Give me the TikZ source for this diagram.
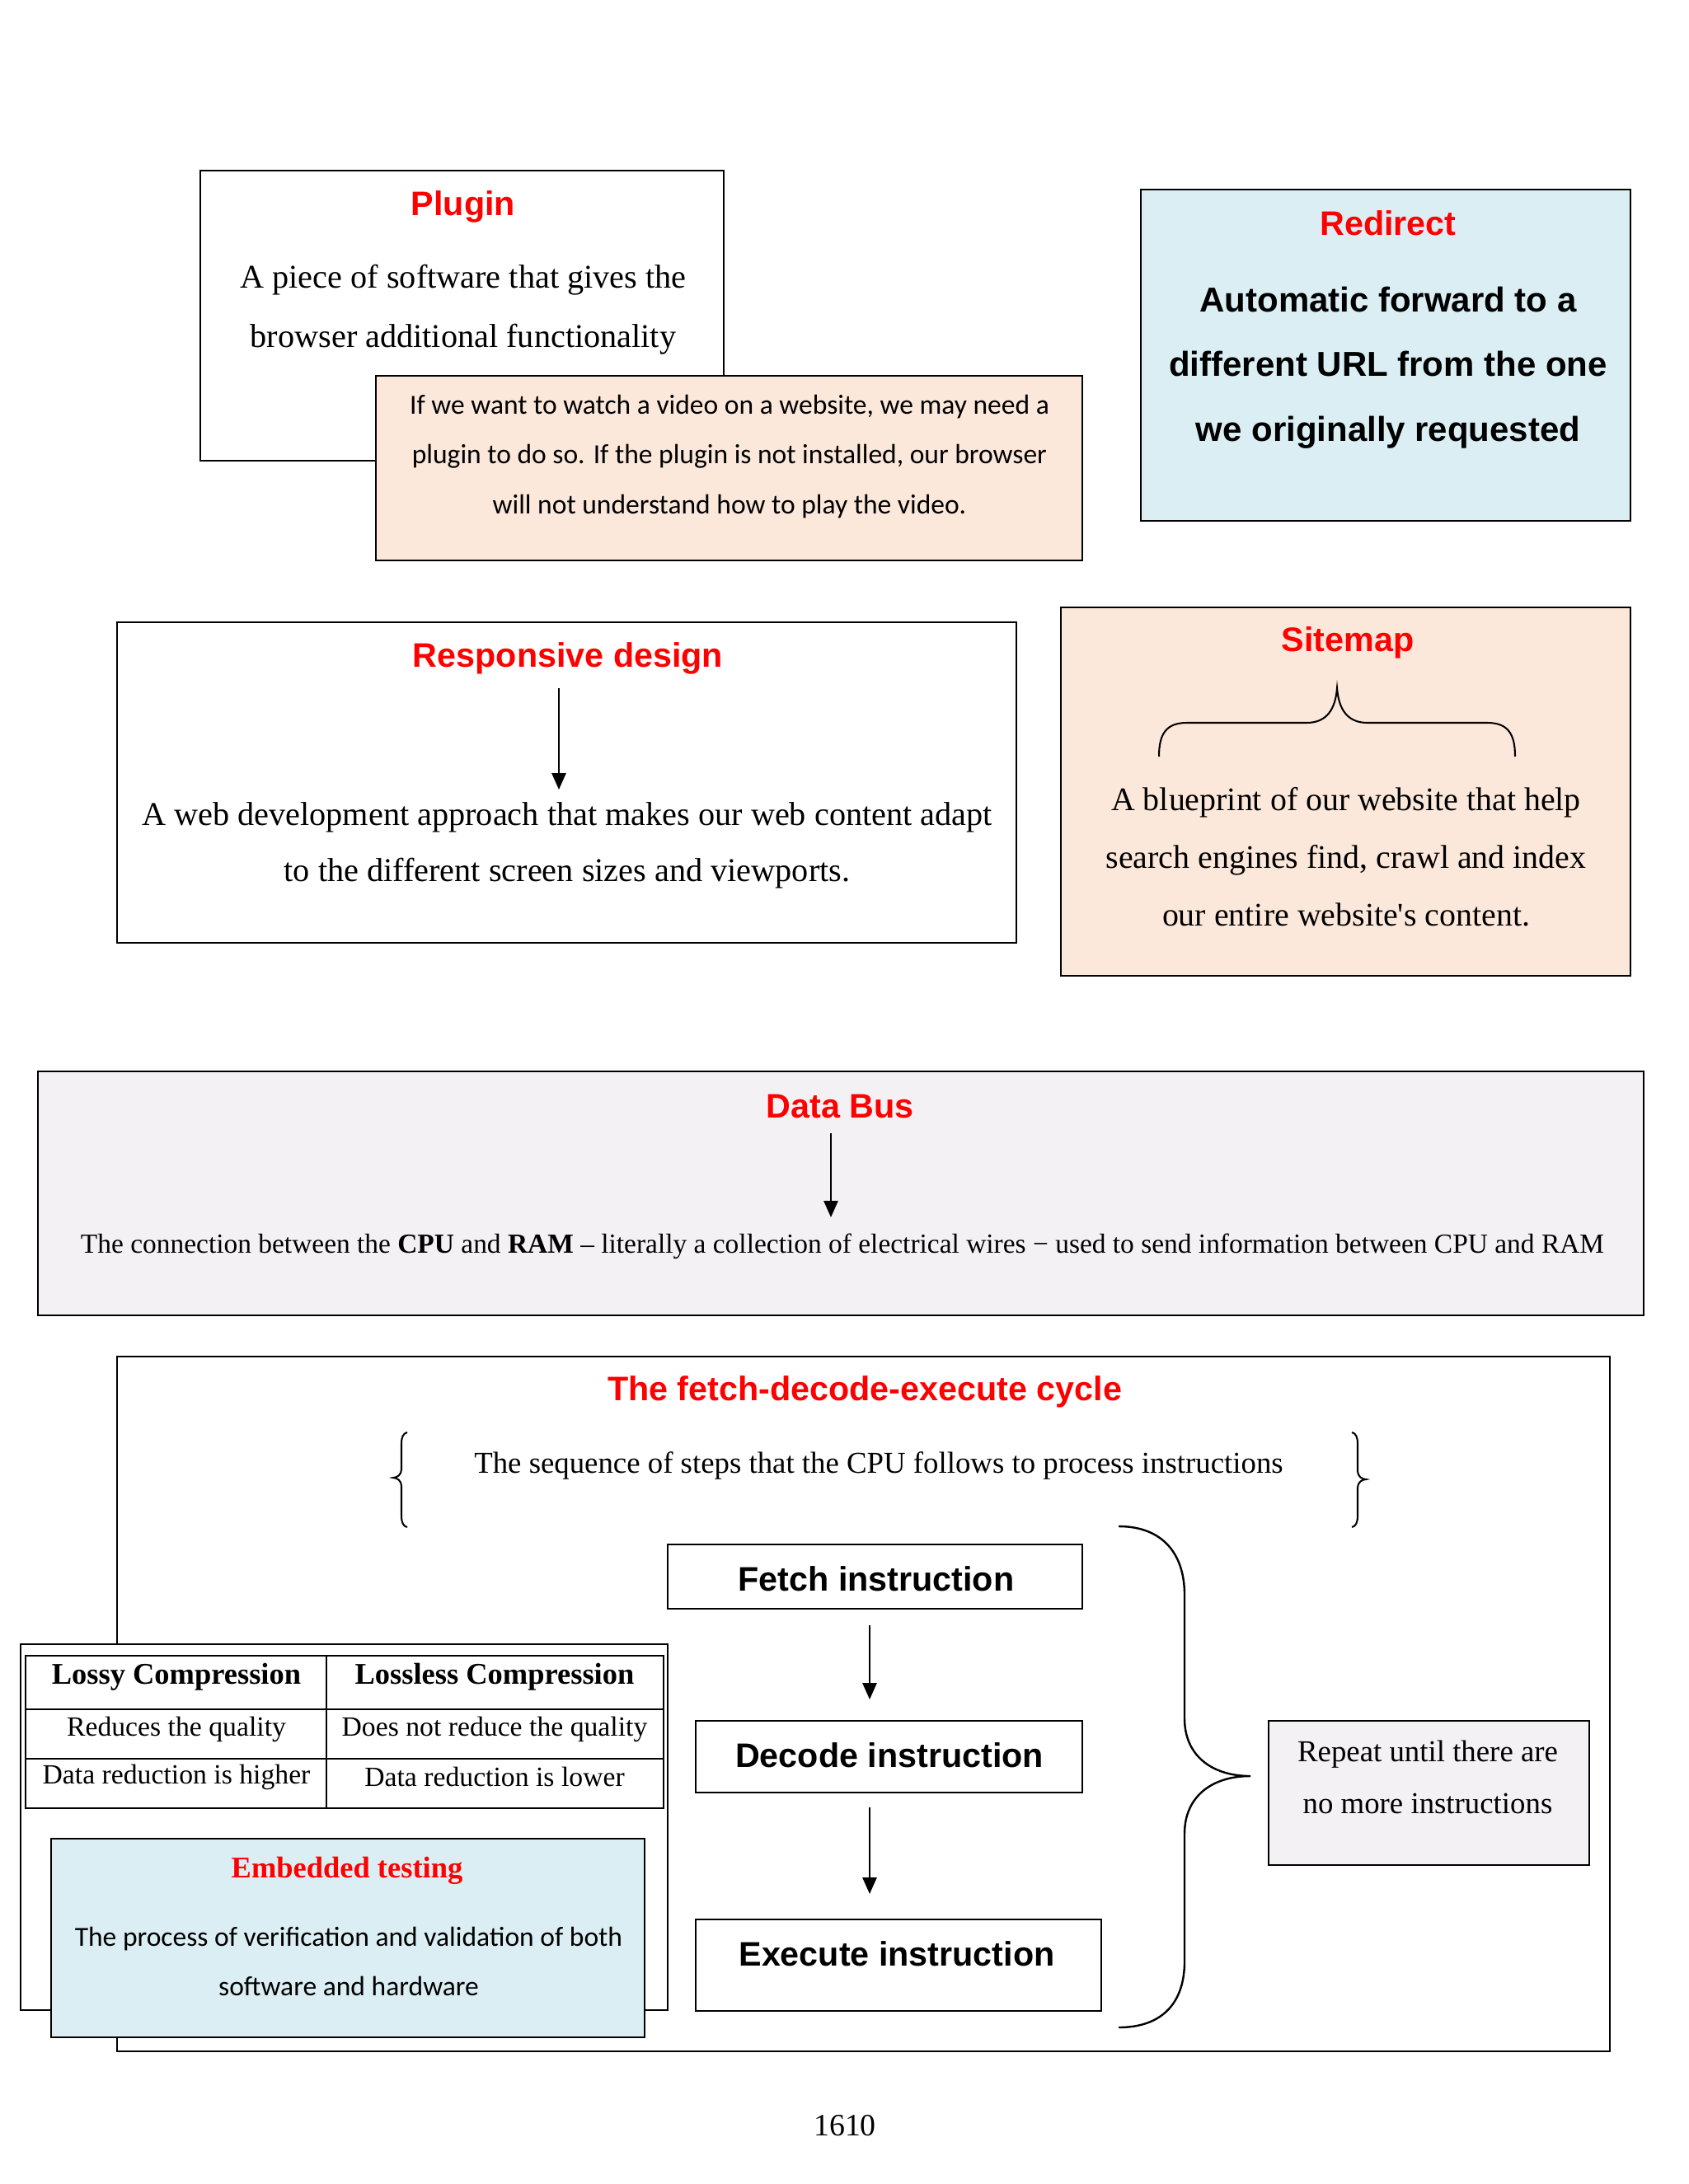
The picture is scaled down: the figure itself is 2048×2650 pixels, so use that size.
\documentclass[tikz,border=0pt]{standalone}
\usepackage{fontspec}
\setmainfont{Liberation Serif}
\newfontfamily\arialf{Liberation Sans}
\newfontfamily\calf{Carlito}
\usetikzlibrary{arrows.meta}
\definecolor{redT}{HTML}{FF0000}
\definecolor{peach}{HTML}{FCE8DA}
\definecolor{lblue}{HTML}{DAEEF3}
\definecolor{lgray}{HTML}{F3F1F4}
\newcommand{\fsz}[2]{\fontsize{#1pt}{#2pt}\selectfont}
\tikzset{
  box/.style={draw=black, line width=0.8pt},
  thinbox/.style={draw=black, line width=0.6pt},
  ttl/.style={inner sep=0pt, text=redT, font=\arialf\bfseries\fsz{12}{14}},
  tms/.style={inner sep=0pt, align=center},
  arr/.style={line width=0.6pt, -{Triangle[length=5.8pt,width=5pt]}},
  brc/.style={line width=0.6pt},
}
\begin{document}
\begin{tikzpicture}[x=0.2907pt,y=-0.2907pt]
\useasboundingbox (0,0) rectangle (2048,2650);
\fill[white] (0,0) rectangle (2048,2650);

% Plugin
\draw[box, fill=white] (243,207) rectangle (878,559);
\node[ttl] (tplugin) at (562,251) {Plugin};
\node[tms, font=\fsz{11.7}{20.9}] (bplugin) at (562,376) {A piece of software that gives the\\browser additional functionality};
\draw[box, fill=peach] (456,456) rectangle (1313,680);
\node[tms, font=\calf\fsz{9.75}{17.7}] (borange) at (885,554) {If we want to watch a video on a website, we may need a\\plugin to do so. If the plugin is not installed, our browser\\will not understand how to play the video.};

% Redirect
\draw[box, fill=lblue] (1384,230) rectangle (1978,632);
\node[ttl] (tredirect) at (1684,271) {Redirect};
\node[tms, font=\arialf\bfseries\fsz{12.2}{22.8}] (bredirect) at (1684,446) {Automatic forward to a\\different URL from the one\\we originally requested};

% Responsive design
\draw[box, fill=white] (142,755) rectangle (1233,1144);
\node[ttl] (tresp) at (689,799) {Responsive design};
\node[tms, font=\fsz{11.7}{19.8}] (bresp) at (688,1026) {A web development approach that makes our web content adapt\\to the different screen sizes and viewports.};
\coordinate (ra1) at (678,835);
\coordinate (ra2) at (678,958);
\draw[arr] (ra1) -- (ra2);

% Sitemap
\draw[box, fill=peach] (1287,737) rectangle (1978,1184);
\node[ttl] (tsite) at (1635,780) {Sitemap};
\draw[brc] (1406,918) .. controls (1406,890) and (1415,877) .. (1440,877) -- (1585,877) .. controls (1610,877) and (1620,860) .. (1622,835) .. controls (1624,860) and (1634,877) .. (1659,877) -- (1804,877) .. controls (1829,877) and (1838,890) .. (1838,918);
\node[tms, font=\fsz{11.6}{20.3}] (bsite) at (1633,1040) {A blueprint of our website that help\\search engines find, crawl and index\\our entire website\textquotesingle s content.};

% Data Bus
\draw[box, fill=lgray] (46,1300) rectangle (1994,1596);
\node[ttl] (tbus) at (1019,1342) {Data Bus};
\coordinate (da1) at (1008,1375);
\coordinate (da2) at (1008,1477);
\draw[arr] (da1) -- (da2);
\node[tms, font=\fsz{9.72}{12}] (bbus) at (1022,1512) {The connection between the \textbf{CPU} and \textbf{RAM} – literally a collection of electrical wires − used to send information between CPU and RAM};

% Fetch-decode-execute cycle
\draw[box, fill=white] (142,1646) rectangle (1953,2489);
\node[ttl] (tcycle) at (1049,1689) {The fetch-decode-execute cycle};
\draw[brc] (494,1738) .. controls (489,1739) and (487,1744) .. (487,1752) -- (487,1783) .. controls (487,1789) and (482,1793) .. (477,1793) .. controls (482,1793) and (487,1797) .. (487,1803) -- (487,1839) .. controls (487,1847) and (489,1852) .. (494,1853);
\draw[brc] (1640,1738) .. controls (1645,1739) and (1647,1744) .. (1647,1752) -- (1647,1785) .. controls (1647,1791) and (1652,1795) .. (1657,1795) .. controls (1652,1795) and (1647,1799) .. (1647,1805) -- (1647,1839) .. controls (1647,1847) and (1645,1852) .. (1640,1853);
\node[tms, font=\fsz{10.7}{13}] (bseq) at (1066,1778) {The sequence of steps that the CPU follows to process instructions};

\draw[box, fill=white] (810,1874) rectangle (1313,1952);
\node[tms, font=\arialf\bfseries\fsz{12}{14}] (fetch) at (1063,1916) {Fetch instruction};
\draw[box, fill=white] (844,2088) rectangle (1313,2175);
\node[tms, font=\arialf\bfseries\fsz{12}{14}] (decode) at (1079,2130) {Decode instruction};
\draw[box, fill=white] (844,2329) rectangle (1336,2440);
\node[tms, font=\arialf\bfseries\fsz{12}{14}] (execute) at (1088,2371) {Execute instruction};
\coordinate (fa1) at (1055,1972);
\coordinate (fa2) at (1055,2062);
\draw[arr] (fa1) -- (fa2);
\coordinate (fb1) at (1055,2193);
\coordinate (fb2) at (1055,2298);
\draw[arr] (fb1) -- (fb2);

\draw[brc, line width=0.7pt] (1357,1852) .. controls (1410,1852) and (1437,1885) .. (1437,1935) -- (1437,2085) .. controls (1437,2130) and (1470,2155) .. (1517,2155) .. controls (1470,2155) and (1437,2180) .. (1437,2225) -- (1437,2380) .. controls (1437,2430) and (1410,2460) .. (1357,2460);

\draw[box, fill=lgray] (1539,2088) rectangle (1928,2263);
\node[tms, font=\fsz{10.7}{18.3}] (brepeat) at (1732,2156) {Repeat until there are\\no more instructions};

% Compression table
\draw[thinbox, fill=white] (25,1995) rectangle (810,2439);
\draw[thinbox] (31,2009) rectangle (805,2194);
\coordinate (tc1) at (396,2009);
\coordinate (tc2) at (396,2194);
\draw[thinbox] (tc1) -- (tc2);
\coordinate (tr1a) at (31,2074);
\coordinate (tr1b) at (805,2074);
\draw[thinbox] (tr1a) -- (tr1b);
\coordinate (tr2a) at (31,2134);
\coordinate (tr2b) at (805,2134);
\draw[thinbox] (tr2a) -- (tr2b);
\node[tms, font=\bfseries\fsz{10.6}{12}] (h1) at (214,2035) {Lossy Compression};
\node[tms, font=\bfseries\fsz{10.6}{12}] (h2) at (600,2035) {Lossless Compression};
\node[tms, font=\fsz{9.8}{12}] (c11) at (214,2098) {Reduces the quality};
\node[tms, font=\fsz{9.8}{12}] (c12) at (600,2098) {Does not reduce the quality};
\node[tms, font=\fsz{9.8}{12}] (c21) at (214,2156) {Data reduction is higher};
\node[tms, font=\fsz{9.8}{12}] (c22) at (600,2156) {Data reduction is lower};

% Embedded testing
\draw[box, fill=lblue] (62,2231) rectangle (782,2472);
\node[tms, text=redT, font=\bfseries\fsz{10.6}{12}] (temb) at (421,2270) {Embedded testing};
\node[tms, font=\calf\fsz{9.75}{17.4}] (bemb) at (423,2380) {The process of verification and validation of both\\software and hardware};

% page number
\node[tms, font=\fsz{11}{13}] (pnum) at (1025,2579) {1610};
\end{tikzpicture}
\end{document}
